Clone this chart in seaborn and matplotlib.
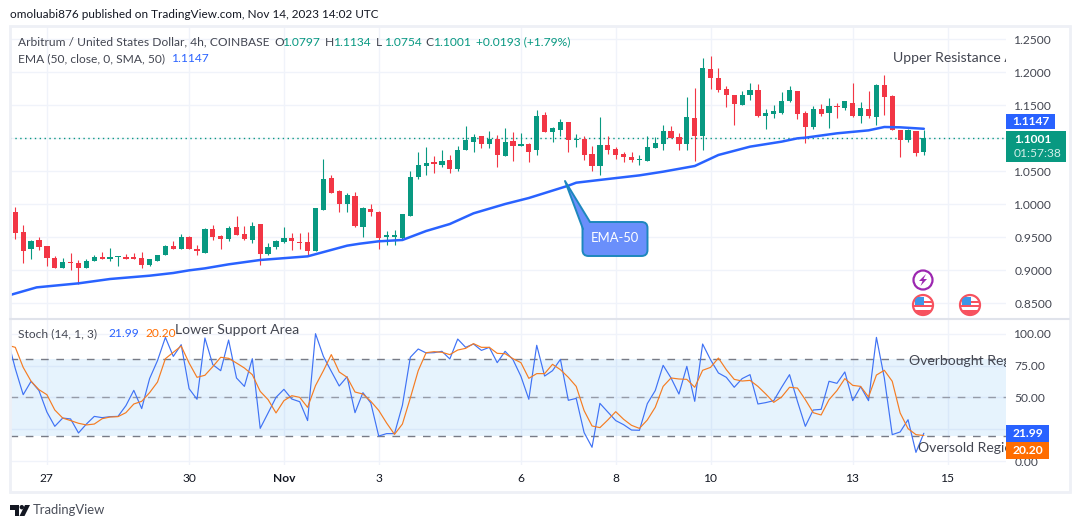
import numpy as np
import pandas as pd
import matplotlib
matplotlib.use("Agg")
import matplotlib.pyplot as plt
import seaborn as sns
from matplotlib.patches import Rectangle, Circle, Polygon, FancyBboxPatch

# candles
opens = [.989,.958,.932,.946,.937,.919,.904,.913,.911,.904,
         .915,.920,.917,.920,.920,.920,.919,.908,.915,.924,
         .937,.932,.951,.933,.927,.963,.952,.948,.966,.955,
         .946,.970,.925,.935,.943,.949,.943,.943,.930,.992,
         1.040,1.020,1.001,1.013,.966,.993,.989,.950,.951,.949,
         .983,1.042,1.059,1.064,1.060,1.067,1.053,1.082,1.095,1.104,
         1.091,1.099,1.074,1.096,1.089,1.092,1.082,1.136,1.110,1.113,
         1.125,1.097,1.099,1.076,1.059,1.090,1.084,1.076,1.072,1.068,
         1.066,1.086,1.092,1.111,1.102,1.091,1.131,1.104,1.205,1.192,
         1.175,1.166,1.151,1.166,1.173,1.134,1.137,1.139,1.157,1.172,
         1.139,1.117,1.145,1.139,1.149,1.146,1.154,1.134,1.145,1.133,
         1.181,1.164,1.113,1.098,1.111,1.0797]
highs = [.996,.969,.946,.950,.937,.922,.919,.926,.916,.917,
         .923,.928,.934,.922,.925,.926,.928,.918,.923,.938,
         .945,.956,.952,.939,.965,.969,.954,.967,.983,.967,
         .973,.971,.941,.946,.966,.957,.957,.958,.994,1.069,
         1.045,1.022,1.017,1.019,.996,1.001,.990,.960,.962,.986,
         1.051,1.080,1.087,1.073,1.083,1.075,1.089,1.119,1.107,1.104,
         1.111,1.105,1.116,1.110,1.108,1.093,1.143,1.140,1.117,1.130,
         1.125,1.107,1.104,1.089,1.133,1.104,1.087,1.079,1.079,1.075,
         1.104,1.102,1.120,1.119,1.108,1.163,1.176,1.222,1.225,1.207,
         1.179,1.166,1.172,1.184,1.183,1.145,1.151,1.170,1.180,1.172,
         1.142,1.149,1.152,1.161,1.154,1.157,1.184,1.155,1.172,1.183,
         1.196,1.166,1.113,1.114,1.111,1.1134]
lows = [.948,.912,.918,.931,.907,.904,.904,.901,.880,.904,
        .915,.917,.915,.907,.917,.917,.903,.907,.915,.924,
        .932,.932,.933,.924,.927,.946,.933,.945,.954,.946,
        .941,.909,.924,.933,.942,.931,.933,.922,.930,.991,
        1.018,.988,.989,.966,.951,.982,.933,.939,.938,.948,
        .983,1.039,1.045,1.047,1.057,1.048,1.050,1.082,1.079,1.085,
        1.085,1.057,1.074,1.066,1.088,1.065,1.075,1.110,1.095,1.104,
        1.080,1.087,1.068,1.051,1.045,1.077,1.069,1.065,1.065,1.060,
        1.066,1.086,1.083,1.101,1.083,1.082,1.066,1.082,1.175,1.171,
        1.148,1.120,1.151,1.158,1.133,1.114,1.131,1.137,1.155,1.130,
        1.093,1.114,1.134,1.116,1.131,1.143,1.133,1.123,1.131,1.120,
        1.136,1.113,1.072,1.094,1.074,1.0754]
closes = [.957,.930,.945,.936,.919,.904,.913,.912,.904,.914,
          .920,.917,.920,.922,.917,.917,.908,.917,.923,.937,
          .932,.951,.933,.929,.963,.951,.948,.964,.954,.948,
          .967,.925,.936,.945,.949,.944,.942,.930,.994,1.039,
          1.018,1.001,1.014,.967,.995,.989,.949,.954,.954,.986,
          1.042,1.060,1.063,1.062,1.066,1.054,1.083,1.098,1.102,1.092,
          1.099,1.075,1.095,1.089,1.092,1.080,1.134,1.110,1.116,1.125,
          1.097,1.099,1.075,1.059,1.090,1.082,1.075,1.072,1.068,1.069,
          1.087,1.093,1.111,1.101,1.091,1.133,1.104,1.207,1.192,1.173,
          1.166,1.152,1.166,1.173,1.134,1.139,1.142,1.157,1.173,1.137,
          1.117,1.145,1.137,1.149,1.147,1.157,1.134,1.146,1.134,1.181,
          1.163,1.113,1.098,1.113,1.078,1.1001]

# EMA 50, read at the bars where the line bends
ema_bars = [-0.67,2.7,8,12,17,20,22,24,27,31,37,42,43.6,46,49,52,55,58,62,65,
            70,71,75,79,82,86,89,93,97,99,100,104,108,110,112,115]
ema_vals = [.8628,.8744,.8805,.8871,.8921,.8962,.9002,.9032,.9093,.9159,.9214,.9376,.9406,
            .9442,.9462,.9598,.9704,.9866,1.0007,1.0098,1.0285,1.033,1.0386,1.0441,1.0497,
            1.0583,1.075,1.0876,1.0952,1.1002,1.1012,1.1078,1.1123,1.1174,1.1169,1.1147]

# stochastic, first value belongs to the bar just off the left edge
stoch_k = [96.6,72.6,52.2,62.7,55.4,38.6,27.4,33.9,33.2,22.2,29.2,35.2,34.2,35.0,35.2,43.6,55.6,41.3,
           64.8,78.9,97.1,82.2,91.4,56.9,48.6,96.6,75.7,71.0,95.0,65.3,58.7,80.4,25.8,37.9,50.1,56.4,
           48.8,46.7,31.9,100.0,82.2,70.5,59.0,66.3,38.1,
           53.8,45.7,19.8,21.7,21.7,43.9,81.5,88.0,84.9,85.1,86.2,80.2,95.8,89.3,91.9,86.9,89.3,77.3,
           86.2,79.6,66.6,48.6,90.9,66.8,71.0,79.9,47.8,49.3,22.5,11.0,45.4,38.6,31.9,28.7,24.5,24.3,
           45.2,55.4,75.2,65.3,52.7,74.4,47.0,91.9,79.6,69.2,
           65.8,58.0,64.8,67.9,44.9,46.0,47.5,58.0,67.9,47.0,27.4,40.2,40.7,62.7,61.1,70.0,47.5,58.5,
           47.5,97.1,65.3,20.9,23.0,32.6,7.0,21.99]
stoch_d = [91.0,89.3,73.6,62.7,56.1,52.2,40.2,33.9,31.9,29.8,28.5,29.2,33.4,34.7,35.0,38.1,44.9,47.0,
           53.8,62.1,80.4,85.4,90.3,77.0,65.8,67.4,74.2,81.5,80.7,77.0,73.1,67.9,54.8,48.3,37.9,47.5,
           51.4,50.1,42.3,59.3,71.0,83.6,70.0,65.8,54.3,
           52.7,47.0,39.9,30.0,21.1,29.2,49.6,71.0,85.1,85.9,85.4,83.6,87.2,88.5,92.2,89.3,89.3,84.6,
           84.3,80.4,77.3,65.0,68.7,68.7,76.0,71.8,65.8,58.7,39.7,27.7,26.4,32.4,38.9,32.9,28.2,25.8,
           32.4,42.3,58.7,65.3,64.5,64.2,58.0,71.3,73.6,80.9,
           71.8,64.2,62.9,63.4,58.7,52.7,46.2,50.4,58.0,57.4,48.3,38.1,36.3,48.3,55.4,64.8,59.5,58.7,
           50.4,67.6,71.3,62.7,37.9,25.6,20.9,20.20]

price_ticks = [0.85,0.90,0.95,1.00,1.05,1.10,1.15,1.20,1.25]
stoch_ticks = [0,25,50,75,100]
date_bars = [4,22,34,46,64,76,88,106,118]
date_labels = ["27","30","Nov","3","6","8","10","13","15"]

FONT = "Lato"
GREEN = "#089981"
RED = "#f23645"
BLUE = "#2962ff"
ORANGE = "#ff6d00"
TEXT = "#131722"
SLATE = "#434651"
GRID = "#f0f3fa"
W, H = 1080, 528


def px(size):
    # text sizes below are in picture pixels
    return size * 0.72


def make_axes(fig, left, top, right, bottom):
    ax = fig.add_axes([left / W, 1 - bottom / H, (right - left) / W, (bottom - top) / H])
    ax.set_xlim(-0.67, 125.4)
    ax.yaxis.tick_right()
    ax.tick_params(axis="y", length=0, labelsize=px(12), labelcolor=SLATE, pad=6)
    ax.tick_params(axis="x", length=0, labelsize=px(12), labelcolor=TEXT, pad=6)
    ax.set_xlabel("")
    ax.set_ylabel("")
    for side in ax.spines:
        ax.spines[side].set_visible(False)
    ax.set_axisbelow(True)
    ax.grid(True, color=GRID, linewidth=1)
    ax.set_xticks(date_bars)
    return ax


def draw_candles(ax):
    bars = np.arange(len(opens))
    o = np.array(opens)
    c = np.array(closes)
    colors = [GREEN if up else RED for up in c >= o]
    ax.vlines(bars, lows, highs, colors=colors, linewidth=0.8, zorder=3)
    ax.bar(bars, np.abs(c - o), bottom=np.minimum(o, c), width=0.66, color=colors, linewidth=0, zorder=3)


def draw_price(ax):
    ax.set_ylim(0.828, 1.2689)
    ax.set_yticks(price_ticks)
    # 1.1000 sits behind the last price box in the original
    ax.set_yticklabels(["" if t == 1.10 else "%.4f" % t for t in price_ticks])
    ax.tick_params(axis="x", labelbottom=False)
    ax.axhline(closes[-1], color=GREEN, linewidth=1, linestyle=(0, (1, 2.5)), zorder=2)
    draw_candles(ax)
    ema_df = pd.DataFrame({"bar": ema_bars, "ema": ema_vals})
    sns.lineplot(data=ema_df, x="bar", y="ema", ax=ax, color=BLUE, linewidth=1.8, legend=False, zorder=4)
    ax.set_xlabel("")
    ax.set_ylabel("")


def draw_stoch(ax):
    ax.set_ylim(-2.5, 111.5)
    ax.set_yticks(stoch_ticks)
    ax.set_yticklabels(["" if t == 25 else "%.2f" % t for t in stoch_ticks])
    ax.set_xticklabels(date_labels)
    for lab in ax.get_xticklabels():
        if lab.get_text() == "Nov":
            lab.set_fontweight("bold")
    ax.axhspan(20, 80, color="#2196f3", alpha=0.11, linewidth=0, zorder=1)
    ax.axhline(80, color="#787b86", linewidth=1, linestyle=(0, (5.5, 5.5)), zorder=2)
    ax.axhline(50, color="#787b86", linewidth=1, alpha=0.7, linestyle=(0, (5.5, 5.5)), zorder=2)
    ax.axhline(20, color="#787b86", linewidth=1, linestyle=(0, (5.5, 5.5)), zorder=2)
    df = pd.DataFrame({"bar": np.arange(-1, len(stoch_k) - 1), "k": stoch_k, "d": stoch_d})
    sns.lineplot(data=df, x="bar", y="k", ax=ax, color="#3f72f5", linewidth=0.85, legend=False, zorder=3)
    sns.lineplot(data=df, x="bar", y="d", ax=ax, color="#f57c22", linewidth=0.85, legend=False, zorder=4)
    ax.set_xlabel("")
    ax.set_ylabel("")


def label(ov, x, y, s, color=TEXT, size=12, clip=None, **kw):
    t = ov.text(x, y, s, color=color, fontsize=px(size), va="center", ha=kw.pop("ha", "left"), **kw)
    if clip is not None:
        t.set_clip_path(Rectangle((clip[0], clip[1]), clip[2] - clip[0], clip[3] - clip[1], transform=ov.transData))
        t.set_clip_on(True)
    return t


def flag_icon(ov, cx, cy):
    ring = Circle((cx, cy), 10, facecolor="white", edgecolor="#f7525f", linewidth=1.6, zorder=5)
    ov.add_patch(ring)
    parts = [Rectangle((cx - 8, cy - 8), 9, 8, facecolor="#3d97e8", linewidth=0, zorder=6),
             Rectangle((cx + 1, cy - 4), 9, 2, facecolor="#f7525f", linewidth=0, zorder=6),
             Rectangle((cx - 10, cy), 20, 2, facecolor="#f7525f", linewidth=0, zorder=6),
             Rectangle((cx - 10, cy + 5), 20, 6, facecolor="#f7525f", linewidth=0, zorder=6)]
    for part in parts:
        ov.add_patch(part)
        part.set_clip_path(Circle((cx, cy), 9.5, transform=ov.transData))


def draw_overlay(ov):
    ov.set_xlim(0, W)
    ov.set_ylim(H, 0)
    ov.axis("off")
    ov.patch.set_alpha(0)

    # frame round the chart and the line between the panes
    ov.add_patch(Rectangle((9.5, 26), 1060.5, 465.5, fill=False, edgecolor="#eef0f6", linewidth=2))
    ov.plot([10, 1069], [318.5, 318.5], color="#e0e3eb", linewidth=1.5)

    label(ov, 10, 14, "omoluabi876 published on TradingView.com, Nov 14, 2023 14:02 UTC", size=11.8)

    # legend lines
    label(ov, 18, 42, "Arbitrum / United States Dollar, 4h, COINBASE", color=SLATE)
    for x, s, col in [(274, "O", SLATE), (283, "1.0797", GREEN), (325, "H", SLATE), (334, "1.1134", GREEN),
                      (376, "L", SLATE), (385, "1.0754", GREEN), (425, "C", SLATE), (434, "1.1001", GREEN),
                      (476, "+0.0193 (+1.79%)", GREEN)]:
        label(ov, x, 42, s, color=col)
    label(ov, 18, 59, "EMA (50, close, 0, SMA, 50)", color=SLATE)
    label(ov, 172, 59, "1.1147", color=BLUE)
    label(ov, 18, 333.5, "Stoch (14, 1, 3)", color=SLATE)
    label(ov, 108, 333.5, "21.99", color=BLUE)
    label(ov, 145, 333.5, "20.20", color=ORANGE)

    # drawn notes on the chart, the price scale cuts them off in the original
    label(ov, 893, 58.5, "Upper Resistance A", color=SLATE, size=14, clip=(10, 27, 1006, 318))
    label(ov, 175, 330.5, "Lower Support Area", color=SLATE, size=14)
    label(ov, 909, 361, "Overbought Reg", color=SLATE, size=14, clip=(10, 319, 1006, 464))
    label(ov, 918, 448, "Oversold Regio", color=SLATE, size=14, clip=(10, 319, 1006, 464))

    # EMA-50 callout
    box = FancyBboxPatch((585, 224.5), 60, 29, boxstyle="round,pad=2.5,rounding_size=6",
                         facecolor="#6a8ffb", edgecolor="#1d87bd", linewidth=1.4, zorder=4)
    ov.add_patch(box)
    ov.add_patch(Polygon([(565, 181), (583, 229), (590, 223)], facecolor="#6a8ffb", edgecolor="none", zorder=5))
    ov.plot([583, 565, 590], [229, 181, 222], color="#1d87bd", linewidth=1.4, zorder=5)
    label(ov, 615, 238.5, "EMA-50", color="white", size=13, ha="center", zorder=6)

    # scale labels
    ov.add_patch(Rectangle((1006, 114), 49, 15, facecolor=BLUE, linewidth=0, zorder=4))
    label(ov, 1030.5, 121.5, "1.1147", color="white", ha="center", fontweight="bold", zorder=6)
    ov.add_patch(Rectangle((1006, 131), 60, 31, facecolor=GREEN, linewidth=0, zorder=4))
    label(ov, 1014, 139.5, "1.1001", color="white", fontweight="bold", zorder=6)
    label(ov, 1014, 153.5, "01:57:38", color="#d3efe9", zorder=6)
    ov.add_patch(Rectangle((1006, 425), 43, 17, facecolor=BLUE, linewidth=0, zorder=4))
    label(ov, 1027.5, 433.5, "21.99", color="white", ha="center", fontweight="bold", zorder=6)
    ov.add_patch(Rectangle((1006, 442), 43, 17, facecolor=ORANGE, linewidth=0, zorder=4))
    label(ov, 1027.5, 450.5, "20.20", color="white", ha="center", fontweight="bold", zorder=6)

    # event icons
    ov.add_patch(Circle((923, 280), 9.5, facecolor="white", edgecolor="#9c27b0", linewidth=1.6, zorder=5))
    ov.add_patch(Polygon([(926, 274), (919, 281), (922.5, 281), (920.5, 286), (927, 279), (923.5, 279)],
                         facecolor="#9c27b0", linewidth=0, zorder=6))
    flag_icon(ov, 923, 305)
    flag_icon(ov, 970, 305)

    # TradingView logo
    ov.add_patch(Polygon([(10, 505), (19, 505), (19, 516), (14.5, 516), (14.5, 509.5), (10, 509.5)],
                         facecolor="#131722", linewidth=0))
    ov.add_patch(Circle((21.8, 507.2), 2.2, facecolor="#131722", linewidth=0))
    ov.add_patch(Polygon([(25, 505), (30, 505), (24.5, 516), (19.5, 516)], facecolor="#131722", linewidth=0))
    label(ov, 33, 510.5, "TradingView", color="#4a4e59", size=13)


def main():
    sns.set_theme(style="white")
    plt.rcParams["font.family"] = [FONT, "DejaVu Sans"]
    fig = plt.figure(figsize=(W / 100, H / 100), dpi=100, facecolor="white")

    ax_price = make_axes(fig, 10, 27, 1006, 318)
    ax_stoch = make_axes(fig, 10, 319, 1006, 464.5)
    draw_price(ax_price)
    draw_stoch(ax_stoch)

    ov = fig.add_axes([0, 0, 1, 1], zorder=10)
    draw_overlay(ov)

    fig.savefig("out.png", dpi=100)
    plt.close(fig)


if __name__ == "__main__":
    main()
